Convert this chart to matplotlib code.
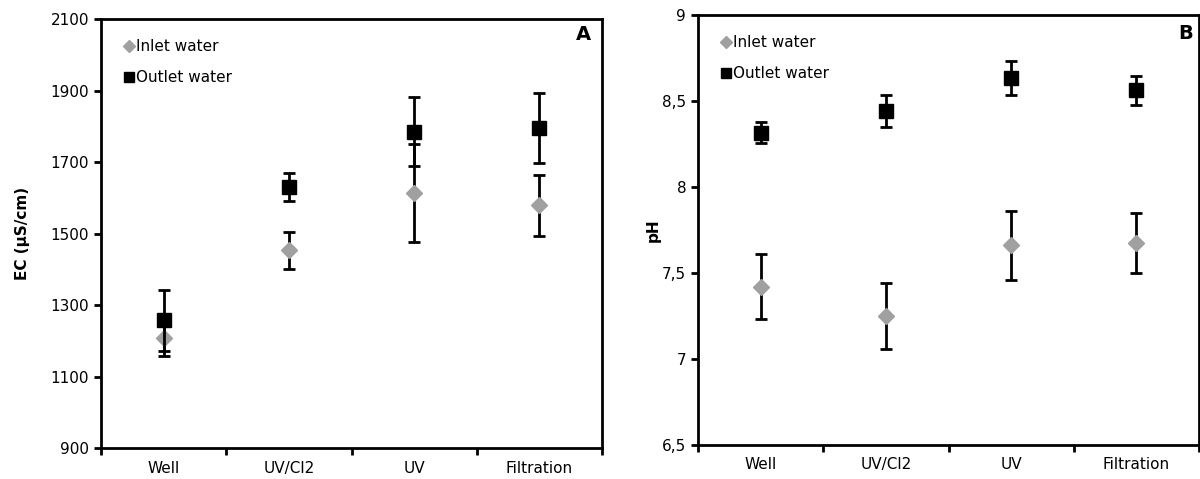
import matplotlib
matplotlib.use('Agg')
import matplotlib.pyplot as plt
from matplotlib.lines import Line2D
from matplotlib.ticker import FixedLocator, FuncFormatter

sites = ['Well', 'UV/Cl2', 'UV', 'Filtration']

# EC (uS/cm)
ec_inlet = [1209, 1453, 1612, 1579]
ec_inlet_err = [52, 52, 137, 85]
ec_outlet = [1257, 1629, 1785, 1794]
ec_outlet_err = [85, 39, 96, 98]

# pH
ph_inlet = [7.42, 7.25, 7.66, 7.675]
ph_inlet_err = [0.19, 0.19, 0.20, 0.175]
ph_outlet = [8.316, 8.442, 8.632, 8.563]
ph_outlet_err = [0.06, 0.095, 0.098, 0.085]

plt.rcParams['font.family'] = 'DejaVu Sans'

fig = plt.figure(figsize=(12, 4.79), dpi=100)
axA = fig.add_axes([0.0842, 0.0647, 0.4175, 0.8956])
axB = fig.add_axes([0.5817, 0.0710, 0.4175, 0.8977])

grey = '#a0a0a0'
xpos = [i + 0.5 for i in range(len(sites))]


def draw(ax, inl, inl_err, outl, outl_err, ylim, yticks, fmt, ylabel, letter, lx, tx, ty):
    ax.errorbar(xpos, inl, yerr=inl_err, fmt='D', color=grey, ms=8.5,
                ecolor='black', elinewidth=2, capsize=4, capthick=2, zorder=3)
    ax.errorbar(xpos, outl, yerr=outl_err, fmt='s', color='black', ms=10,
                ecolor='black', elinewidth=2, capsize=4, capthick=2, zorder=4)
    ax.set_xlim(0, len(sites))
    ax.set_ylim(*ylim)
    ax.set_yticks(yticks)
    ax.yaxis.set_major_formatter(FuncFormatter(fmt))
    ax.xaxis.set_major_locator(FixedLocator(range(len(sites) + 1)))
    ax.xaxis.set_major_formatter(FuncFormatter(lambda v, p: ''))
    ax.xaxis.set_minor_locator(FixedLocator(xpos))
    ax.set_xticklabels(sites, minor=True)
    ax.tick_params(axis='x', which='minor', length=0, labelsize=11, pad=9)
    ax.tick_params(axis='both', which='major', direction='out', length=5,
                   width=2, labelsize=11)
    for s in ax.spines.values():
        s.set_linewidth(2)
    ax.set_ylabel(ylabel, fontsize=11, fontweight='bold')
    ax.yaxis.set_label_coords(lx, 0.5)
    ax.text(tx, ty, letter, transform=ax.transAxes, ha='right', va='top',
            fontsize=14, fontweight='bold')
    handles = [
        Line2D([], [], ls='none', marker='D', color=grey, ms=6),
        Line2D([], [], ls='none', marker='s', color='black', ms=7.5),
    ]
    ax.legend(handles, ['Inlet water', 'Outlet water'], loc='upper left',
              frameon=False, fontsize=11, handletextpad=0.0,
              labelspacing=1.05, borderaxespad=0.8, handlelength=1.0,
              borderpad=0.5)


draw(axA, ec_inlet, ec_inlet_err, ec_outlet, ec_outlet_err, (900, 2100),
     [900, 1100, 1300, 1500, 1700, 1900, 2100],
     lambda v, p: '%d' % v, 'EC (µS/cm)', 'A', -0.142, 0.978, 0.985)

draw(axB, ph_inlet, ph_inlet_err, ph_outlet, ph_outlet_err, (6.5, 9),
     [6.5, 7, 7.5, 8, 8.5, 9],
     lambda v, p: ('%g' % v).replace('.', ','), 'pH', 'B', -0.074, 0.988, 0.98)

fig.savefig('out.png', dpi=100)
